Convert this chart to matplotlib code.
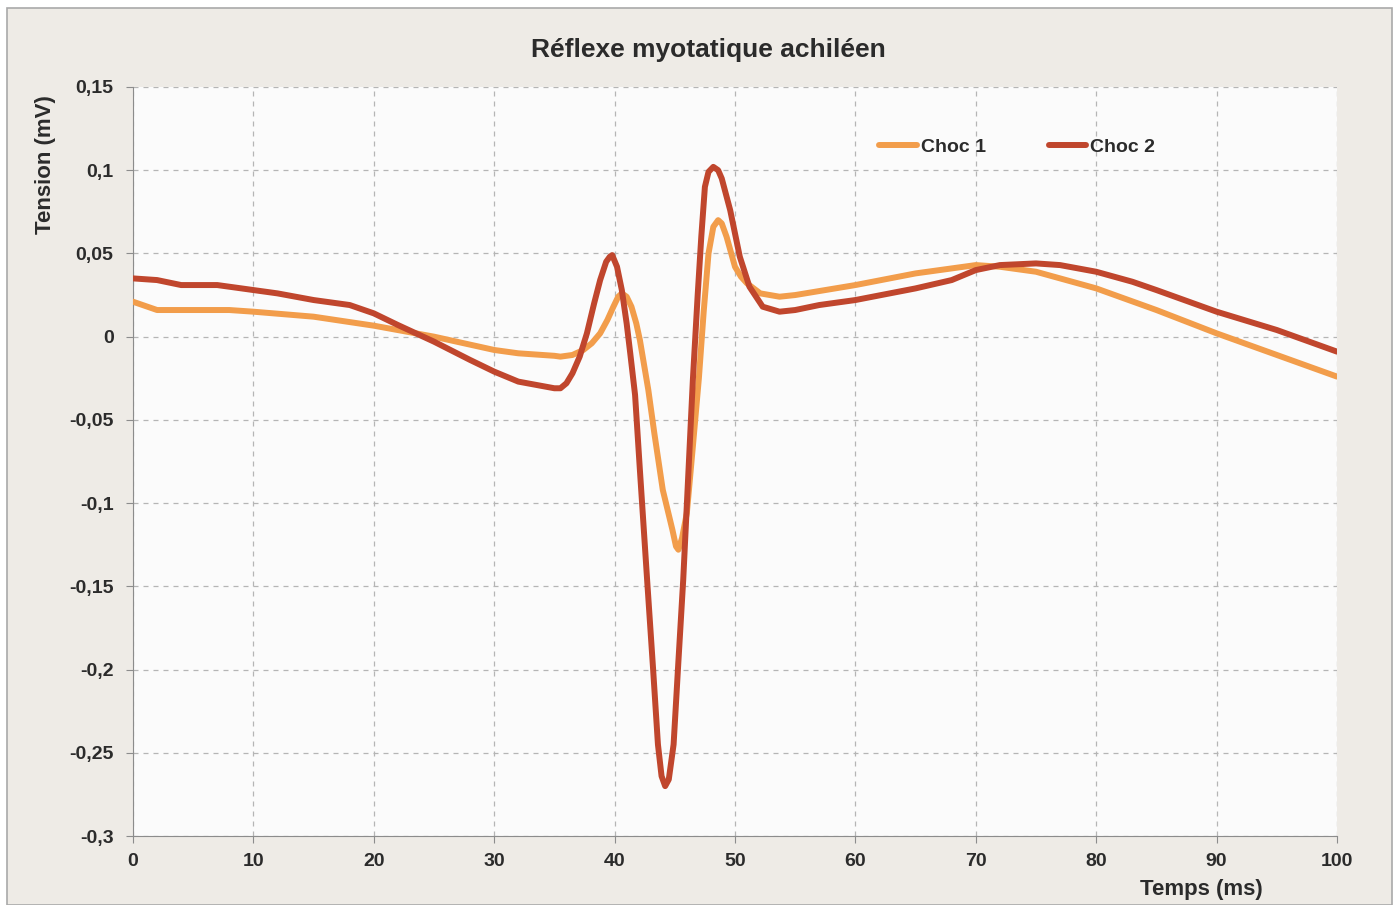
"""Réflexe myotatique achiléen - two stimulation traces"""

import matplotlib.pyplot as plt
from matplotlib.patches import Rectangle

plt.rcParams['font.family'] = ['Liberation Sans', 'DejaVu Sans']

# Choc 1
t1 = [0, 2, 5, 8, 10, 15, 20, 25, 30, 32, 35, 35.5, 36.5, 37.4, 38.1,
      38.8, 39.4, 39.9, 40.3, 40.6, 41.0, 41.4, 41.8, 42.1, 42.8, 43.3,
      44.0, 44.8, 45.1, 45.3, 45.6, 46.0, 46.5, 47.0, 47.4, 47.8, 48.2,
      48.6, 48.9, 49.3, 50.0, 50.5, 51.0, 52.1, 53.7, 55, 60, 65, 70, 72,
      75, 80, 85, 90, 95, 100]
v1 = [0.021, 0.016, 0.016, 0.016, 0.015, 0.012, 0.0066, 0.0, -0.008,
      -0.010, -0.0115, -0.012, -0.011, -0.008, -0.004, 0.002, 0.010,
      0.018, 0.024, 0.026, 0.024, 0.018, 0.008, -0.002, -0.032, -0.058,
      -0.092, -0.116, -0.126, -0.128, -0.121, -0.106, -0.066, -0.025,
      0.015, 0.050, 0.066, 0.070, 0.068, 0.060, 0.042, 0.036, 0.032,
      0.026, 0.024, 0.025, 0.031, 0.038, 0.043, 0.042, 0.039, 0.029,
      0.016, 0.002, -0.011, -0.024]

# Choc 2
t2 = [0, 2, 4, 7, 10, 12, 15, 18, 20, 22, 25, 28, 30, 32, 35, 35.5, 36,
      36.5, 37.1, 37.7, 38.3, 38.8, 39.3, 39.6, 39.8, 40.2, 40.6, 41.0,
      41.3, 41.7, 42.1, 42.7, 43.2, 43.6, 43.9, 44.2, 44.5, 44.9, 45.3,
      45.7, 46.1, 46.5, 46.9, 47.2, 47.5, 47.8, 48.2, 48.6, 48.9, 49.6,
      50.4, 51.2, 52.3, 53.7, 55, 57, 60, 65, 68, 70, 72, 75, 77, 80, 83,
      85, 90, 95, 100]
v2 = [0.035, 0.034, 0.031, 0.031, 0.028, 0.026, 0.022, 0.019, 0.014,
      0.007, -0.003, -0.014, -0.021, -0.027, -0.031, -0.031, -0.028,
      -0.022, -0.012, 0.002, 0.020, 0.034, 0.045, 0.048, 0.049, 0.042,
      0.028, 0.008, -0.010, -0.035, -0.080, -0.146, -0.200, -0.245,
      -0.264, -0.270, -0.266, -0.245, -0.195, -0.146, -0.086, -0.026,
      0.025, 0.060, 0.090, 0.099, 0.102, 0.100, 0.095, 0.076, 0.048,
      0.030, 0.018, 0.015, 0.016, 0.019, 0.022, 0.029, 0.034, 0.040,
      0.043, 0.044, 0.043, 0.039, 0.033, 0.028, 0.015, 0.004, -0.009]

yticks = [0.15, 0.1, 0.05, 0, -0.05, -0.1, -0.15, -0.2, -0.25, -0.3]
ylabels = ['0,15', '0,1', '0,05', '0', '-0,05', '-0,1', '-0,15', '-0,2',
           '-0,25', '-0,3']
xticks = [0, 10, 20, 30, 40, 50, 60, 70, 80, 90, 100]

ink = '#2b2b2b'

fig = plt.figure(figsize=(14, 9.05), dpi=100)
fig.patch.set_facecolor('white')
fig.patches.append(Rectangle((0.005, 0.0), 0.989, 0.991,
                             transform=fig.transFigure, facecolor='#eeebe6',
                             edgecolor='#a9a9a9', linewidth=1.2, zorder=-1))

ax = fig.add_axes([0.095, 0.0762, 0.86, 0.8277])
ax.set_facecolor('#fbfbfb')

ax.plot(t1, v1, color='#f29d4b', lw=4.3, solid_joinstyle='round',
        solid_capstyle='round', label='Choc 1', zorder=3)
ax.plot(t2, v2, color='#c0462d', lw=4.3, solid_joinstyle='round',
        solid_capstyle='round', label='Choc 2', zorder=4)

ax.set_xlim(0, 100)
ax.set_ylim(-0.3, 0.15)
ax.set_xticks(xticks)
ax.set_yticks(yticks)
ax.set_yticklabels(ylabels)
ax.grid(True, color='#b5b5b5', linestyle=(0, (4, 4)), linewidth=0.9)
ax.set_axisbelow(True)

for s in ['top', 'right']:
    ax.spines[s].set_visible(False)
for s in ['left', 'bottom']:
    ax.spines[s].set_color('#8c8c8c')
ax.tick_params(axis='both', colors='#8c8c8c', length=5, direction='out',
               labelcolor=ink, labelsize=14)
ax.tick_params(axis='y', pad=9)
ax.tick_params(axis='x', pad=7)
for lab in ax.get_xticklabels() + ax.get_yticklabels():
    lab.set_fontweight('bold')

fig.text(0.506, 0.945, 'Réflexe myotatique achiléen', fontsize=19,
         fontweight='bold', color=ink, ha='center', va='center')
ax.set_ylabel('Tension (mV)', fontsize=16, fontweight='bold', color=ink)
ax.yaxis.set_label_coords(-0.073, 0.896)
ax.set_xlabel('Temps (ms)', fontsize=16, fontweight='bold', color=ink)
ax.xaxis.set_label_coords(0.887, -0.072)
ax.xaxis.label.set_va('center')
ax.yaxis.label.set_va('center')

leg = ax.legend(loc='center left', bbox_to_anchor=(0.62, 0.92), ncol=2,
                frameon=False, fontsize=14, handlelength=1.95,
                handletextpad=0.2, columnspacing=3.2, borderpad=0,
                borderaxespad=0)
for txt in leg.get_texts():
    txt.set_fontweight('bold')
    txt.set_color(ink)

fig.savefig('out.png', dpi=100)
